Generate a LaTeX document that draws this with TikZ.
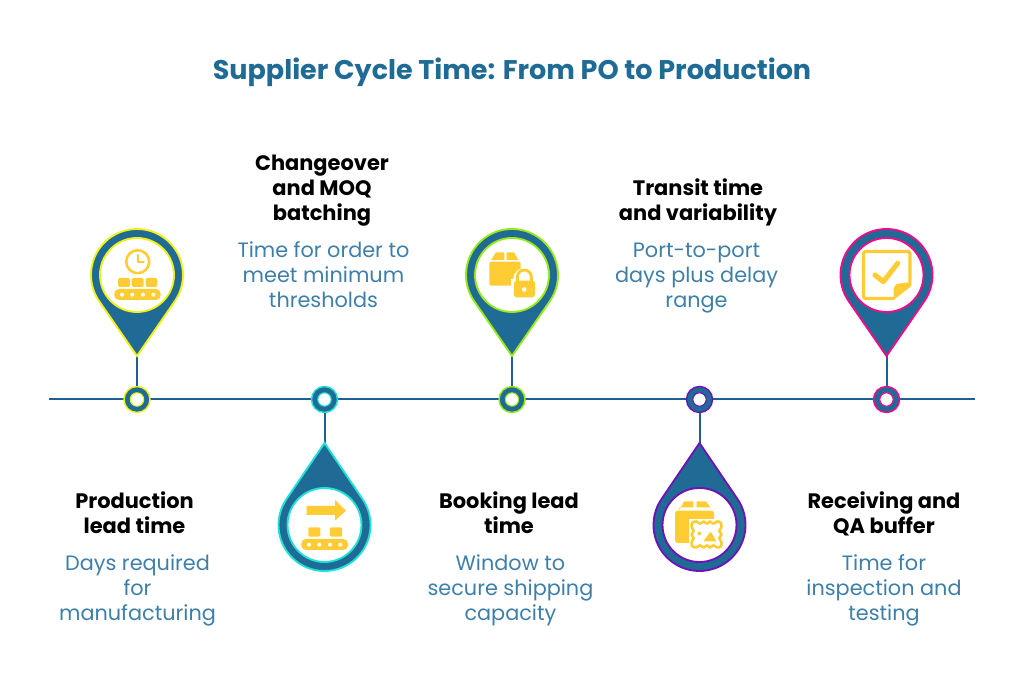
\documentclass[tikz,border=0pt]{standalone}
\usepackage{fontspec}
\setmainfont{Poppins}
\usetikzlibrary{positioning}

\definecolor{pinblue}{RGB}{31,107,150}
\definecolor{linkblue}{RGB}{31,95,150}
\definecolor{bodyblue}{RGB}{62,127,170}
\definecolor{iconyellow}{RGB}{255,204,51}
\definecolor{c1}{RGB}{240,240,20}
\definecolor{c2}{RGB}{30,225,215}
\definecolor{c3}{RGB}{150,235,20}
\definecolor{c4}{RGB}{110,20,180}
\definecolor{c5}{RGB}{240,10,140}

\tikzset{
  titletext/.style={font=\fontsize{20.25}{24}\selectfont\bfseries,text=pinblue,inner sep=0pt},
  headtext/.style={font=\fontsize{15.7}{18.75}\selectfont\bfseries,text=black,align=center,inner sep=0pt},
  bodytext/.style={font=\fontsize{15.6}{18.75}\selectfont,text=bodyblue,align=center,inner sep=0pt},
  pinbody/.style={fill=pinblue,line width=1.4pt,line join=miter},
  pinface/.style={circle,fill=white,line width=1.4pt,minimum size=55.5pt,inner sep=0pt},
  marker/.style={circle,fill=pinblue,line width=1.1pt,minimum size=19.5pt,inner sep=0pt},
  markerhole/.style={circle,fill=white,line width=.8pt,minimum size=10pt,inner sep=0pt},
  link/.style={linkblue,line width=1.5pt},
  iconfill/.style={fill=iconyellow,draw=none},
  iconline/.style={draw=iconyellow,line cap=round,line join=round},
  dot/.style={fill=white,draw=none},
}

\begin{document}
\begin{tikzpicture}[x=.75pt,y=.75pt]
      \useasboundingbox (0,0) rectangle (1024,691);

      \node[titletext] (title) at (512,618.5) {Supplier Cycle Time: From PO to Production};

      % timeline
      \coordinate (lineL) at (49,291.5);
      \coordinate (lineR) at (975,291.5);
      \draw[link] (lineL) -- (lineR);

      % pin centres and tips
      \coordinate (p1) at (137,416);
      \coordinate (t1) at (137,335);
      \coordinate (p2) at (324.5,166);
      \coordinate (t2) at (324.5,248);
      \coordinate (p3) at (512,416);
      \coordinate (t3) at (512,335);
      \coordinate (p4) at (699.5,166);
      \coordinate (t4) at (699.5,248);
      \coordinate (p5) at (886.5,416);
      \coordinate (t5) at (886.5,335);

      % markers on the line
      \node[marker,draw=c1] (m1) at (137,291.5) {};
      \node[marker,draw=c2] (m2) at (324.5,291.5) {};
      \node[marker,draw=c3] (m3) at (512,291.5) {};
      \node[marker,draw=c4] (m4) at (699.5,291.5) {};
      \node[marker,draw=c5] (m5) at (886.5,291.5) {};
      \node[markerhole,draw=c1] (h1) at (m1) {};
      \node[markerhole,draw=c2] (h2) at (m2) {};
      \node[markerhole,draw=c3] (h3) at (m3) {};
      \node[markerhole,draw=c4] (h4) at (m4) {};
      \node[markerhole,draw=c5] (h5) at (m5) {};

      \draw[link] (m1) -- (t1);
      \draw[link] (m2) -- (t2);
      \draw[link] (m3) -- (t3);
      \draw[link] (m4) -- (t4);
      \draw[link] (m5) -- (t5);

      % pins
      \draw[pinbody,draw=c1] (t1) -- ([shift={(-35:46)}]p1) arc[start angle=-35,end angle=215,radius=46] -- cycle;
      \draw[pinbody,draw=c2] (t2) -- ([shift={(145:46)}]p2) arc[start angle=145,end angle=395,radius=46] -- cycle;
      \draw[pinbody,draw=c3] (t3) -- ([shift={(-35:46)}]p3) arc[start angle=-35,end angle=215,radius=46] -- cycle;
      \draw[pinbody,draw=c4] (t4) -- ([shift={(145:46)}]p4) arc[start angle=145,end angle=395,radius=46] -- cycle;
      \draw[pinbody,draw=c5] (t5) -- ([shift={(-35:46)}]p5) arc[start angle=-35,end angle=215,radius=46] -- cycle;

      \node[pinface,draw=c1] (f1) at (p1) {};
      \node[pinface,draw=c2] (f2) at (p2) {};
      \node[pinface,draw=c3] (f3) at (p3) {};
      \node[pinface,draw=c4] (f4) at (p4) {};
      \node[pinface,draw=c5] (f5) at (p5) {};

      % icon 1: clock over conveyor
      \draw[iconline,line width=1.9pt] (137.7,429.3) circle (11.5);
      \draw[iconline,line width=1.7pt] (137.7,436) -- (137.7,429) -- (143.5,429);
      \fill[iconfill,rounded corners=1.5pt] (118,404) rectangle (130,413);
      \fill[iconfill,rounded corners=1.5pt] (131.7,404) rectangle (143.7,413);
      \fill[iconfill,rounded corners=1.5pt] (145.7,404) rectangle (157.3,413);
      \fill[iconfill,rounded corners=3.5pt] (114.3,391) rectangle (160.7,402);
      \foreach \x in {122,132.3,143,153.3} \fill[dot] (\x,396.3) circle (2);

      % icon 2: arrow over conveyor
      \fill[iconfill] (306.7,176) rectangle (335,185) (335,170.3) -- (346,180.3) -- (335,191) -- cycle;
      \fill[iconfill,rounded corners=1pt] (308.3,154.3) rectangle (320.3,163.7);
      \fill[iconfill,rounded corners=1pt] (330,154.3) rectangle (342,163.7);
      \fill[iconfill,rounded corners=3.5pt] (301.3,141) rectangle (348,152);
      \foreach \x in {309,319.3,330,340.3} \fill[dot] (\x,146.3) circle (2);

      % icon 3: box with lock
      \fill[iconfill,rounded corners=1.5pt] (489.3,405.3) rectangle (520.7,429.3);
      \fill[iconfill] (491,431) -- (496,438.7) -- (504.3,438.7) -- (504.3,431) -- cycle;
      \fill[iconfill] (506.7,431) -- (506.7,438.7) -- (514,438.7) -- (518.5,431) -- cycle;
      \fill[white] (511,391) rectangle (538,412);
      \fill[white] (524.3,412) circle (11);
      \draw[iconline,line width=2.2pt] (517.3,406) -- (517.3,414) arc[start angle=180,end angle=0,radius=7] -- (531.3,406);
      \fill[iconfill,rounded corners=2pt] (514,393.7) rectangle (535,410.3);
      \fill[dot] (524.3,401.5) circle (2.3);

      % icon 4: box with picture
      \fill[iconfill] (679.3,180.5) -- (684,189.5) -- (693.3,189.5) -- (693.3,183.5) -- (679.3,183.5) -- cycle;
      \fill[iconfill] (696.7,183.5) -- (696.7,189.5) -- (706,189.5) -- (710.7,183.5) -- cycle;
      \fill[iconfill,rounded corners=2pt] (675,148) rectangle (714,180.3);
      \fill[white] (688.5,140.5) rectangle (724,172);
      \draw[iconline,line width=1.9pt,fill=white] plot[smooth cycle,tension=.6] coordinates {
        (692.5,168.5) (696.5,169.5) (700,167.3) (703.5,169.5) (707,167.3) (710,169.5) (713.5,167.3) (717,169.5)
        (720.5,168.5) (721.5,164) (719.3,160) (721.5,156.5) (719.3,153) (721.5,148.5)
        (720.5,144.5) (717,143.5) (713.5,145.7) (710,143.5) (707,145.7) (703.5,143.5) (700,145.7) (696.5,143.5)
        (692.5,144.5) (691.5,148.5) (693.7,153) (691.5,156.5) (693.7,160) (691.5,164)};
      \fill[iconfill,rounded corners=.7pt] (703,149.5) -- (710.7,159.5) -- (716.5,149.5) -- cycle;
      \fill[iconfill] (699.3,157.5) circle (2);

      % icon 5: note with check
      \draw[iconline,line width=2.4pt,rounded corners=1.5pt] (893.5,392.5) -- (863.5,392.5) -- (863.5,439.5) -- (910,439.5) -- (910,409);
      \fill[iconfill,rounded corners=1pt] (893.5,391) -- (893.5,402) -- (896,407) -- (911.5,409) -- (911.5,405) -- cycle;
      \draw[iconline,line width=3.8pt] (875,416) -- (883.3,409.3) -- (897.7,427.7);

      % labels
      \node[headtext] (h1t) at (134.5,178.5) {Production\\lead time};
      \node[bodytext,below=15.2pt of h1t,xshift=2.25pt] (b1t) {Days required\\for\\manufacturing};

      \node[headtext] (h2t) at (322,500) {Changeover\\and MOQ\\batching};
      \node[bodytext,below=10.7pt of h2t,xshift=1.1pt] (b2t) {Time for order to\\meet minimum\\thresholds};

      \node[headtext] (h3t) at (509,178.5) {Booking lead\\time};
      \node[bodytext,below=15.7pt of h3t,xshift=1.1pt] (b3t) {Window to\\secure shipping\\capacity};

      \node[headtext] (h4t) at (698,488.5) {Transit time\\and variability};
      \node[bodytext,below=12.2pt of h4t,xshift=-1.1pt] (b4t) {Port-to-port\\days plus delay\\range};

      \node[headtext] (h5t) at (884,177.5) {Receiving and\\QA buffer};
      \node[bodytext,below=13.7pt of h5t] (b5t) {Time for\\inspection and\\testing};
\end{tikzpicture}
\end{document}
